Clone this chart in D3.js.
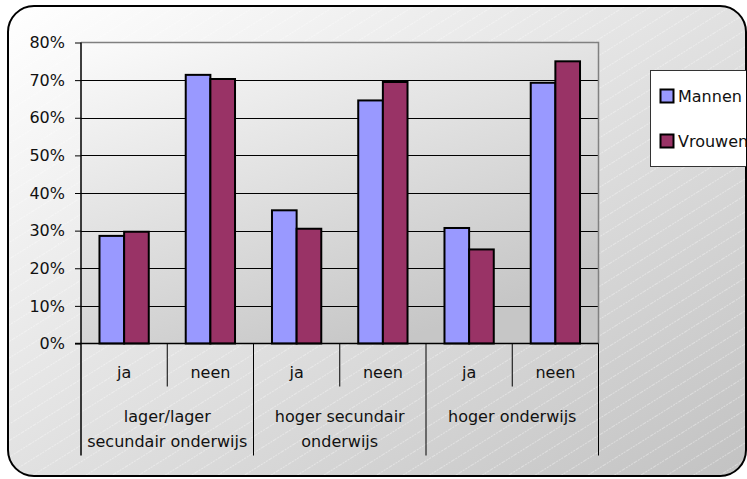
<!DOCTYPE html>
<html><head><meta charset="utf-8">
<script src="https://cdn.jsdelivr.net/npm/d3@7"></script>
<style>
html,body{margin:0;padding:0;background:#fff;}
svg{display:block;font-family:"DejaVu Sans",sans-serif;}
</style></head>
<body>
<script>
const categories = ["ja","neen","ja","neen","ja","neen"];
const groups = [["lager/lager","secundair onderwijs"],["hoger secundair","onderwijs"],["hoger onderwijs"]];
const seriesNames = ["Mannen","Vrouwen"];
const mannen = [0.286, 0.714, 0.354, 0.646, 0.307, 0.693];
const vrouwen = [0.297, 0.703, 0.305, 0.695, 0.250, 0.750];
const yTicks = [0,0.1,0.2,0.3,0.4,0.5,0.6,0.7,0.8];
const colors = ["#9999FF","#993366"];

const W=747,H=479;
const svg=d3.select("body").append("svg").attr("width",W).attr("height",H);
const defs=svg.append("defs");
const bg=defs.append("linearGradient").attr("id","bg").attr("x1","0").attr("y1","0").attr("x2","1").attr("y2","1");
bg.append("stop").attr("offset","0").attr("stop-color","#ffffff");
bg.append("stop").attr("offset","0.55").attr("stop-color","#dedede");
bg.append("stop").attr("offset","1").attr("stop-color","#c2c2c2");
const pg=defs.append("linearGradient").attr("id","pg").attr("x1","0").attr("y1","0").attr("x2","0.6").attr("y2","1");
pg.append("stop").attr("offset","0").attr("stop-color","#fbfbfb");
pg.append("stop").attr("offset","1").attr("stop-color","#c6c6c6");
const pat=defs.append("pattern").attr("id","stripes").attr("patternUnits","userSpaceOnUse")
  .attr("width",14).attr("height",14).attr("patternTransform","rotate(-32)");
pat.append("line").attr("x1",0).attr("y1",0.5).attr("x2",14).attr("y2",0.5)
  .attr("stroke","#ffffff").attr("stroke-opacity",0.45).attr("stroke-width",0.8).attr("stroke-dasharray","2,1");
const clip=defs.append("clipPath").attr("id","outer");
clip.append("rect").attr("x",8).attr("y",6).attr("width",738).attr("height",470).attr("rx",26).attr("ry",26);

// outer chart area
svg.append("rect").attr("x",8).attr("y",6).attr("width",738).attr("height",470).attr("rx",26).attr("ry",26)
  .attr("fill","url(#bg)");
svg.append("rect").attr("x",8).attr("y",6).attr("width",738).attr("height",470).attr("rx",26).attr("ry",26)
  .attr("fill","url(#stripes)");
svg.append("rect").attr("x",8).attr("y",6).attr("width",738).attr("height",470).attr("rx",26).attr("ry",26)
  .attr("fill","none").attr("stroke","#000").attr("stroke-width",2);

const L=81,R=598.5,T=42.5,B=343.5;
const x0=d3.scaleBand().domain(d3.range(categories.length)).range([L,R]).paddingInner(0).paddingOuter(0);
const x1=d3.scaleBand().domain(seriesNames).range([0,x0.bandwidth()]).paddingInner(0).paddingOuter(0.75);
const y=d3.scaleLinear().domain([0,0.8]).range([B,T]);

// plot area
svg.append("rect").attr("x",L).attr("y",T).attr("width",R-L).attr("height",B-T).attr("fill","url(#pg)");
svg.append("g").selectAll("line").data(yTicks.filter(d=>d>0&&d<0.8)).join("line")
  .attr("x1",L).attr("x2",R).attr("y1",d=>Math.round(y(d))+0.5).attr("y2",d=>Math.round(y(d))+0.5)
  .attr("stroke","#000").attr("stroke-width",1);
svg.append("path").attr("d",`M${L},${T}H${R}V${B}`).attr("fill","none").attr("stroke","#808080").attr("stroke-width",1.5);

// bars
const data=categories.map((c,i)=>({i,vals:[mannen[i],vrouwen[i]]}));
const gb=svg.append("g").selectAll("g").data(data).join("g").attr("transform",d=>`translate(${x0(d.i)},0)`);
gb.selectAll("rect").data(d=>d.vals.map((v,k)=>({v,k}))).join("rect")
  .attr("x",d=>x1(seriesNames[d.k])).attr("width",x1.bandwidth())
  .attr("y",d=>y(d.v)).attr("height",d=>B-y(d.v))
  .attr("fill",d=>colors[d.k]).attr("stroke","#000").attr("stroke-width",2);

// y axis
const ya=svg.append("g").attr("transform",`translate(${L},0)`)
  .call(d3.axisLeft(y).tickValues(yTicks).tickFormat(d3.format(".0%")).tickSize(6).tickPadding(10));
ya.select(".domain").remove();
ya.selectAll(".tick line").attr("stroke","#000");
ya.selectAll("text").attr("font-size",16).attr("fill","#111").attr("font-family","DejaVu Sans");
svg.append("line").attr("x1",L).attr("x2",L).attr("y1",T).attr("y2",455.5).attr("stroke","#000").attr("stroke-width",1.5);
svg.append("line").attr("x1",75).attr("x2",R).attr("y1",B).attr("y2",B).attr("stroke","#000").attr("stroke-width",1.5);

// x category separators
const bounds=d3.range(1,categories.length+1);
svg.append("g").selectAll("line").data(bounds).join("line")
  .attr("x1",k=>x0(k-1)+x0.bandwidth()).attr("x2",k=>x0(k-1)+x0.bandwidth())
  .attr("y1",B).attr("y2",k=>k%2===0?455.5:386.5).attr("stroke","#000").attr("stroke-width",1);

// x labels
svg.append("g").selectAll("text").data(categories).join("text")
  .attr("x",(d,i)=>x0(i)+x0.bandwidth()/2).attr("y",378).attr("text-anchor","middle")
  .attr("font-size",16).attr("fill","#111").text(d=>d);
const gl=svg.append("g").selectAll("text").data(groups).join("text")
  .attr("x",(d,i)=>x0(i*2)+x0.bandwidth()).attr("y",421.5).attr("text-anchor","middle")
  .attr("font-size",16).attr("fill","#111");
gl.selectAll("tspan").data(d=>d).join("tspan")
  .attr("x",function(){return this.parentNode.getAttribute("x");})
  .attr("dy",(d,j)=>j===0?0:25.5).text(d=>d);

// legend
const lg=svg.append("g").attr("clip-path","url(#outer)");
lg.append("rect").attr("x",650.5).attr("y",70.5).attr("width",110).attr("height",96)
  .attr("fill","#fff").attr("stroke","#333").attr("stroke-width",1);
const li=lg.selectAll("g.it").data(seriesNames).join("g").attr("class","it")
  .attr("transform",(d,i)=>`translate(660,${89+i*45})`);
li.append("rect").attr("x",0.5).attr("y",0.5).attr("width",13).attr("height",13)
  .attr("fill",(d,i)=>colors[i]).attr("stroke","#000").attr("stroke-width",2);
li.append("text").attr("x",18).attr("y",13).attr("font-size",16).attr("fill","#111").text(d=>d);
</script>
</body></html>
